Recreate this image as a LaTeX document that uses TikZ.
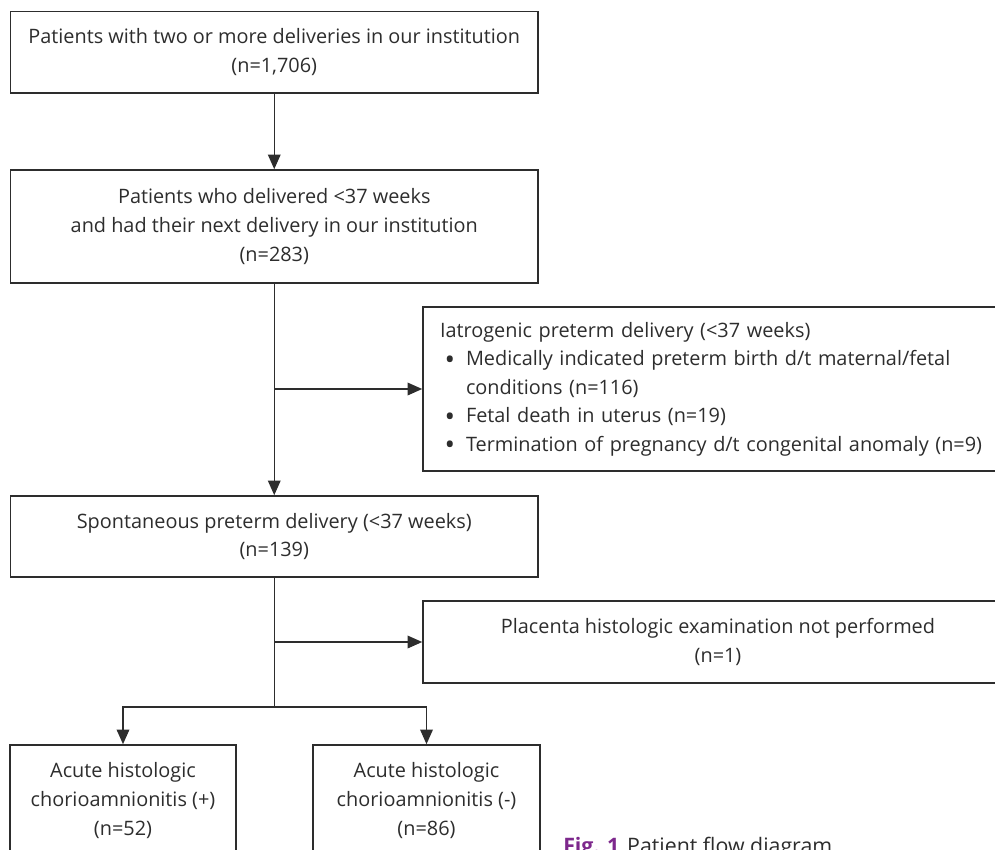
\documentclass[tikz,border=0pt]{standalone}
\usepackage{fontspec}
\setmainfont{Open Sans}
\usetikzlibrary{arrows.meta}
\definecolor{inkgray}{RGB}{45,45,45}
\definecolor{figpurple}{RGB}{125,40,140}
\tikzstyle{box} = [rectangle, draw=inkgray, line width=1.2pt, text=inkgray, align=center, inner sep=0pt]
\tikzstyle{listbox} = [rectangle, draw=inkgray, line width=1.2pt, text=inkgray, align=left, inner xsep=12.75pt, inner ysep=0pt]
\tikzstyle{arrow} = [draw=inkgray, line width=1pt, -{Triangle[length=11pt, width=9.5pt]}]
\tikzstyle{line} = [draw=inkgray, line width=1pt]
\newcommand{\itembullet}{\makebox[19.5pt][l]{\hspace{3.5pt}\raisebox{-2.6pt}{\fontsize{21pt}{0pt}\selectfont\textbullet}}}

\begin{document}
\begin{tikzpicture}[x=0.75pt, y=-0.75pt, font=\fontsize{14.9pt}{21.4pt}\selectfont]
  \useasboundingbox (0,0) rectangle (995,849);
  \clip (0,0) rectangle (995,849);

  \node (patients) [box, minimum width=395.6pt, minimum height=61.1pt] at (274.25,52.25)
    {Patients with two or more deliveries in our institution\\(n=1,706)};
  \node (preterm) [box, minimum width=395.6pt, minimum height=84.75pt] at (274.25,226.5)
    {Patients who delivered <37 weeks\\and had their next delivery in our institution\\(n=283)};
  \node (iatro) [listbox, text width=417pt, minimum height=123pt] at (718,389)
    {Iatrogenic preterm delivery (<37 weeks)\\
     \itembullet Medically indicated preterm birth d/t maternal/fetal\\
     \hspace*{19.5pt}conditions (n=116)\\
     \itembullet Fetal death in uterus (n=19)\\
     \itembullet Termination of pregnancy d/t congenital anomaly (n=9)};
  \node (spont) [box, minimum width=395.6pt, minimum height=60.75pt] at (274.25,536.5)
    {Spontaneous preterm delivery (<37 weeks)\\(n=139)};
  \node (noexam) [box, minimum width=442.5pt, minimum height=61.5pt] at (718,642)
    {Placenta histologic examination not performed\\(n=1)};
  \node (chorpos) [box, minimum width=169.5pt, minimum height=83.25pt] at (123,800.5)
    {Acute histologic\\chorioamnionitis (+)\\(n=52)};
  \node (chorneg) [box, minimum width=170.25pt, minimum height=83.25pt] at (426.5,800.5)
    {Acute histologic\\chorioamnionitis (-)\\(n=86)};

  \coordinate (split1) at (274.25,389);
  \coordinate (split2) at (274.25,642);
  \coordinate (split3) at (274.25,707);

  \draw [arrow] (patients) -- (preterm);
  \draw [arrow] (preterm) -- (spont);
  \draw [arrow] (split1) -- (iatro.west);
  \draw [line] (spont) -- (split3);
  \draw [arrow] (split2) -- (noexam.west);
  \draw [arrow] (split3) -| (chorpos.north);
  \draw [arrow] (split3) -| (chorneg.north);

  \node (caption) [anchor=base west, inner sep=0pt, text=inkgray, font=\fontsize{16pt}{19pt}\selectfont] at (563,853)
    {\textcolor{figpurple}{\textbf{Fig. 1}}\hspace{6pt}Patient flow diagram};
\end{tikzpicture}
\end{document}
